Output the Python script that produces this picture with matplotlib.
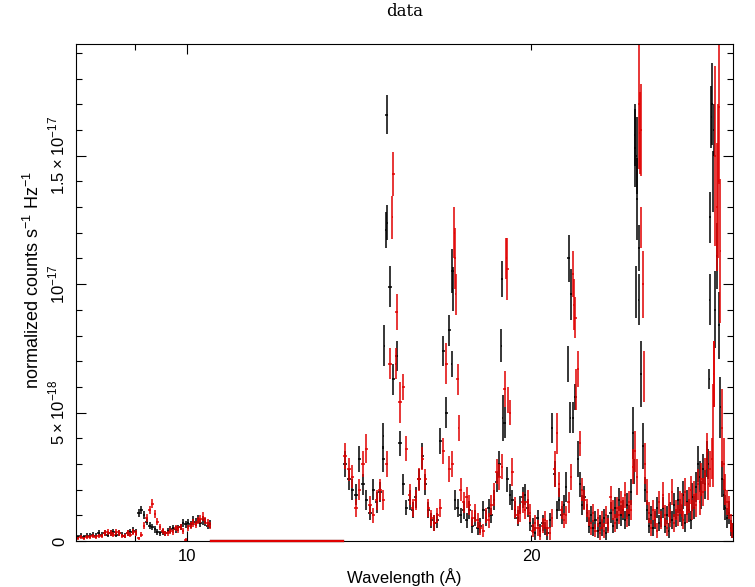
import numpy as np
import matplotlib
matplotlib.use("Agg")
import matplotlib.pyplot as plt
from matplotlib.ticker import FixedLocator, FixedFormatter, MultipleLocator

plt.rcParams['font.family'] = ['Liberation Sans', 'DejaVu Sans']
plt.rcParams['mathtext.fontset'] = 'custom'
plt.rcParams['mathtext.rm'] = 'Liberation Sans'

SCALE = 1e-18  # values below are in units of 1e-18

# short band, 8.0 - 10.5 A, 0.05 A bins
lo_start, lo_step = 8.0, 0.05
black_lo = [0.15, 0.2, 0.15, 0.2, 0.2, 0.25, 0.2, 0.3, 0.25, 0.3,
            0.25, 0.3, 0.35, 0.25, 0.3, 0.25, 0.2, 0.3, 0.35, 0.4,
            0.35, 1.1, 1.2, 1.0, 0.75, 0.6, 0.55, 0.45, 0.35, 0.3,
            0.35, 0.3, 0.4, 0.45, 0.5, 0.45, 0.5, 0.55, 0.7, 0.65,
            0.7, 0.65, 0.8, 0.75, 0.85, 0.7, 0.8, 0.75, 0.6, 0.65]
black_lo_err = [0.08, 0.1, 0.08, 0.1, 0.1, 0.1, 0.1, 0.12, 0.1, 0.12,
                0.1, 0.12, 0.12, 0.1, 0.12, 0.1, 0.1, 0.12, 0.12, 0.13,
                0.12, 0.15, 0.16, 0.15, 0.14, 0.13, 0.13, 0.12, 0.11, 0.1,
                0.11, 0.1, 0.12, 0.12, 0.13, 0.12, 0.13, 0.13, 0.15, 0.14,
                0.15, 0.14, 0.16, 0.15, 0.16, 0.15, 0.16, 0.15, 0.14, 0.15]
red_lo = [0.1, 0.15, 0.1, 0.15, 0.15, 0.2, 0.15, 0.2, 0.2, 0.3,
          0.35, 0.3, 0.25, 0.35, 0.3, 0.2, 0.2, 0.3, 0.25, 0.35,
          0.3, 0.1, 0.25, 0.6, 0.9, 1.2, 1.45, 1.05, 0.75, 0.55,
          0.4, 0.3, 0.3, 0.4, 0.35, 0.5, 0.45, 0.55, 0.4, 0.05,
          0.5, 0.6, 0.7, 0.65, 0.8, 0.85, 0.95, 0.8, 0.7, 0.6]
red_lo_err = [0.07, 0.08, 0.07, 0.08, 0.08, 0.09, 0.08, 0.09, 0.09, 0.11,
              0.12, 0.11, 0.1, 0.12, 0.11, 0.09, 0.09, 0.11, 0.1, 0.12,
              0.11, 0.07, 0.1, 0.13, 0.15, 0.16, 0.17, 0.15, 0.13, 0.12,
              0.11, 0.1, 0.1, 0.11, 0.11, 0.12, 0.12, 0.13, 0.11, 0.05,
              0.12, 0.13, 0.14, 0.14, 0.15, 0.15, 0.16, 0.15, 0.14, 0.13]

# empty channels between the two bands
gap_lo, gap_hi = 10.5, 13.7

# long band, 13.7 - 30.0 A, 0.1 A bins
hi_start, hi_step = 13.7, 0.1
black_hi = [3.0, 2.4, 2.0,
            1.8, 3.2, 2.2, 1.6, 1.1, 2.0, 1.5, 1.9, 3.2, 16.6,
            9.9, 6.3, 7.2, 3.8, 2.2, 1.3, 1.6, 1.2, 1.7, 2.4,
            3.3, 2.2, 1.2, 0.8, 0.7, 0.8, 3.9, 7.4, 5.0, 8.2,
            10.5, 1.6, 1.3, 1.0, 1.2, 0.8, 1.2, 0.6, 0.9, 0.5,
            0.6, 1.2, 0.9, 1.3, 1.0, 1.6, 2.3, 3.0, 10.2, 4.6,
            2.4, 1.8, 1.6, 1.2, 0.9, 1.4, 1.7, 1.8, 1.3, 0.7,
            0.6, 0.3, 0.9, 0.4, 0.7, 0.5, 0.3, 0.8, 4.4, 2.6,
            1.2, 1.6, 1.0, 1.4, 2.1, 11.0, 9.6, 4.8, 5.6, 3.2,
            2.2, 1.4, 1.7, 1.1, 0.6, 1.0, 0.5, 0.8, 0.4, 0.7,
            0.5, 0.9, 0.3, 0.7, 1.1, 0.6, 1.3, 0.8, 1.6, 1.0,
            1.2, 0.8, 1.4, 1.0, 1.9, 4.2, 15.3, 13.3, 11.4, 6.5,
            3.7, 2.0, 1.2, 0.6, 1.0, 0.5, 0.8, 1.3, 0.7, 0.9,
            1.3, 0.6, 1.0, 0.4, 1.1, 0.8, 1.4, 0.9, 1.6, 1.2,
            1.0, 1.8, 0.7, 1.5, 1.2, 0.8, 1.7, 1.3, 2.1, 3.0,
            2.5, 1.8, 2.8, 2.2, 3.2, 3.0, 12.6, 17.0, 16.0, 9.0,
            11.1, 8.4, 5.2, 2.4, 1.8, 1.3, 0.9, 1.1, 0.5, 0.4]
black_hi_err = [0.5, 0.4, 0.4,
                0.4, 0.5, 0.4, 0.4, 0.3, 0.4, 0.4, 0.4, 0.5, 0.75,
                0.8, 0.6, 0.6, 0.5, 0.4, 0.3, 0.4, 0.3, 0.4, 0.4,
                0.5, 0.4, 0.3, 0.3, 0.3, 0.3, 0.5, 0.6, 0.6, 0.6,
                0.85, 0.4, 0.35, 0.3, 0.35, 0.3, 0.35, 0.3, 0.3, 0.25,
                0.3, 0.35, 0.3, 0.35, 0.3, 0.4, 0.4, 0.5, 0.7, 0.6,
                0.5, 0.4, 0.4, 0.35, 0.3, 0.35, 0.4, 0.4, 0.35, 0.3,
                0.3, 0.25, 0.3, 0.25, 0.3, 0.25, 0.25, 0.3, 0.6, 0.5,
                0.35, 0.45, 0.35, 0.4, 0.6, 0.9, 1.0, 0.6, 0.5, 0.7,
                0.5, 0.4, 0.45, 0.35, 0.3, 0.35, 0.3, 0.35, 0.3, 0.3,
                0.3, 0.35, 0.25, 0.3, 0.4, 0.3, 0.4, 0.35, 0.45, 0.4,
                0.4, 0.35, 0.45, 0.4, 0.5, 1.0, 1.5, 1.6, 0.9, 1.3,
                0.9, 0.5, 0.4, 0.3, 0.35, 0.3, 0.35, 0.4, 0.3, 0.35,
                0.4, 0.3, 0.35, 0.3, 0.4, 0.35, 0.45, 0.35, 0.5, 0.45,
                0.4, 0.55, 0.35, 0.5, 0.45, 0.35, 0.55, 0.45, 0.6, 0.7,
                0.6, 0.55, 0.6, 0.55, 0.7, 0.6, 1.0, 1.6, 1.0, 1.5,
                1.3, 1.3, 1.2, 0.7, 0.6, 0.5, 0.4, 0.45, 0.3, 0.3]
red_hi = [3.3, 2.8, 2.5,
          1.3, 2.0, 3.0, 3.6, 1.4, 1.0, 1.6, 2.0, 1.6, 3.0,
          6.9, 14.3, 8.9, 5.4, 6.0, 3.6, 1.8, 1.3, 1.6, 2.4,
          3.2, 2.4, 1.3, 0.9, 0.7, 1.0, 1.3, 3.5, 6.9, 2.8,
          3.0, 11.0, 6.3, 2.0, 1.5, 1.7, 1.4, 0.9, 1.1, 0.8,
          0.5, 0.4, 1.0, 0.8, 1.4, 1.8, 2.7, 2.5, 2.9, 5.9,
          10.6, 5.0, 2.7, 1.3, 1.0, 1.1, 1.5, 1.2, 1.5, 1.1,
          0.4, 0.7, 0.5, 0.3, 0.6, 0.8, 0.5, 0.3, 0.9, 2.8,
          4.2, 2.2, 1.2, 0.8, 1.0, 1.5, 2.5, 10.4, 8.7, 6.7,
          3.8, 2.0, 1.6, 1.3, 0.9, 0.5, 1.1, 0.4, 0.9, 0.3,
          0.8, 0.4, 1.0, 0.6, 1.7, 1.2, 0.7, 1.3, 1.0, 1.5,
          1.3, 1.8, 0.9, 1.5, 1.2, 2.9, 3.5, 2.5, 17.0, 16.0,
          10.0, 3.0, 1.9, 1.1, 0.5, 1.2, 0.9, 0.4, 1.5, 0.8,
          1.8, 1.0, 0.5, 1.4, 0.9, 1.9, 0.7, 1.2, 1.0, 1.5,
          1.4, 0.8, 1.9, 1.1, 1.6, 2.0, 1.2, 1.8, 1.4, 2.2,
          1.5, 2.4, 1.9, 2.6, 3.5, 2.2, 2.8, 3.2, 6.5, 15.0,
          13.0, 16.9, 11.3, 4.4, 3.0, 2.0, 1.5, 1.3, 0.7, 0.4]
red_hi_err = [0.5, 0.45, 0.45,
              0.35, 0.4, 0.5, 0.55, 0.35, 0.3, 0.4, 0.4, 0.4, 0.5,
              0.6, 0.85, 0.7, 0.8, 0.5, 0.5, 0.4, 0.35, 0.4, 0.45,
              0.45, 0.4, 0.35, 0.3, 0.3, 0.3, 0.35, 0.5, 0.8, 0.5,
              0.5, 1.2, 0.6, 0.45, 0.4, 0.4, 0.4, 0.3, 0.35, 0.3,
              0.25, 0.25, 0.3, 0.3, 0.4, 0.45, 0.5, 0.5, 0.5, 0.7,
              1.2, 0.5, 0.55, 0.4, 0.35, 0.35, 0.4, 0.35, 0.5, 0.35,
              0.25, 0.3, 0.3, 0.25, 0.3, 0.35, 0.3, 0.25, 0.35, 0.7,
              0.8, 0.5, 0.35, 0.3, 0.35, 0.4, 0.5, 0.9, 0.8, 0.7,
              0.5, 0.45, 0.4, 0.35, 0.3, 0.25, 0.35, 0.25, 0.35, 0.25,
              0.35, 0.3, 0.35, 0.3, 0.45, 0.4, 0.35, 0.4, 0.35, 0.45,
              0.4, 0.5, 0.35, 0.45, 0.4, 0.7, 0.8, 0.7, 2.5, 1.8,
              1.3, 0.8, 0.5, 0.4, 0.3, 0.4, 0.35, 0.3, 0.45, 0.35,
              0.5, 0.4, 0.3, 0.45, 0.35, 0.5, 0.35, 0.4, 0.4, 0.45,
              0.45, 0.35, 0.55, 0.4, 0.5, 0.55, 0.4, 0.55, 0.45, 0.6,
              0.5, 0.65, 0.55, 0.65, 0.7, 0.6, 0.7, 0.8, 1.3, 3.5,
              2.5, 3.0, 2.8, 1.5, 1.0, 0.6, 0.5, 0.45, 0.35, 0.3]

# narrow channels inside the strong lines
fine_step = 0.03
black_line_wl = [14.84, 14.88, 14.92, 14.97, 17.03, 17.07, 18.83, 18.87, 21.53, 21.63,
                 24.58, 24.62, 24.68, 24.72, 24.82, 28.60, 28.62, 28.72, 28.82]
black_line = [4.1, 7.6, 12.1, 12.4, 6.9, 9.8, 7.6, 4.8, 6.9, 4.8,
              2.7, 15.8, 9.7, 15.0, 9.4, 6.3, 9.4, 16.5, 14.0]
black_line_err = [0.5, 0.8, 0.7, 0.7, 0.5, 0.85, 0.65, 0.9, 0.7, 0.6,
                  0.5, 1.2, 1.0, 1.5, 1.0, 0.4, 1.0, 1.2, 1.2]
red_line_wl = [15.12, 15.22, 17.12, 17.18, 17.28, 19.02, 19.08, 21.78, 21.88,
               24.87, 24.93, 25.08, 28.82, 28.87, 29.13]
red_line = [12.6, 6.9, 12.0, 9.6, 4.4, 11.0, 5.5, 9.2, 5.9,
            15.9, 12.2, 6.4, 4.1, 6.5, 14.0]
red_line_err = [0.85, 0.6, 1.0, 0.8, 0.5, 0.8, 0.5, 1.0, 0.8,
                1.6, 0.8, 1.0, 2.0, 1.3, 3.0]

fig = plt.figure(figsize=(7.55, 5.87), dpi=100)
ax = fig.add_axes([76 / 755, 46 / 587, 657 / 755, 497 / 587])


def draw(wl, val, err, hw, color, lw=1.1):
    ax.errorbar(wl, np.array(val) * SCALE, xerr=hw, yerr=np.array(err) * SCALE,
                fmt='none', ecolor=color, elinewidth=lw, capsize=0)


lo_wl = lo_start + lo_step * (np.arange(len(black_lo)) + 0.5)
hi_wl = hi_start + hi_step * (np.arange(len(black_hi)) + 0.5)

for color, lo, lo_e, hi, hi_e, lwl, lv, le in [
        ('black', black_lo, black_lo_err, black_hi, black_hi_err,
         black_line_wl, black_line, black_line_err),
        ('#e00000', red_lo, red_lo_err, red_hi, red_hi_err,
         red_line_wl, red_line, red_line_err)]:
    draw(lo_wl, lo, lo_e, lo_step / 2, color)
    draw(hi_wl, hi, hi_e, hi_step / 2, color)
    draw(lwl, lv, le, fine_step / 2, color)
    ax.plot([gap_lo, gap_hi], [0, 0], color=color, lw=1.6, clip_on=False, zorder=3)

ax.set_xscale('log')
ax.set_xlim(8, 30)
ax.set_ylim(0, 1.935e-17)

ax.xaxis.set_major_locator(FixedLocator([10]))
ax.xaxis.set_major_formatter(FixedFormatter(['10']))
ax.xaxis.set_minor_locator(FixedLocator([9, 20]))
ax.xaxis.set_minor_formatter(FixedFormatter(['', '20']))

ax.yaxis.set_major_locator(FixedLocator([0, 5e-18, 1e-17, 1.5e-17]))
ax.yaxis.set_major_formatter(FixedFormatter(['0', r'$5\times10^{-18}$', r'$10^{-17}$',
                                             r'$1.5\times10^{-17}$']))
ax.yaxis.set_minor_locator(MultipleLocator(1e-18))

ax.tick_params(which='both', direction='in', top=True, right=True, width=0.8,
               labelsize=12, pad=6)
ax.tick_params(which='major', length=7)
ax.tick_params(which='minor', length=4)
ax.tick_params(axis='y', labelrotation=90)
for lbl in ax.get_yticklabels():
    lbl.set_va('center')
for sp in ax.spines.values():
    sp.set_linewidth(0.8)

fig.text(404.5 / 755, 1 - 577 / 587, 'Wavelength (Å)', ha='center', va='center', fontsize=12)
fig.text(32.5 / 755, 1 - 280 / 587, r'normalized counts s$^{-1}$ Hz$^{-1}$',
         ha='center', va='center', rotation=90, fontsize=13)
fig.text(404.5 / 755, 1 - 12 / 587, 'data', ha='center', va='center', fontsize=12,
         family='DejaVu Serif')

fig.savefig('out.png', dpi=100)
